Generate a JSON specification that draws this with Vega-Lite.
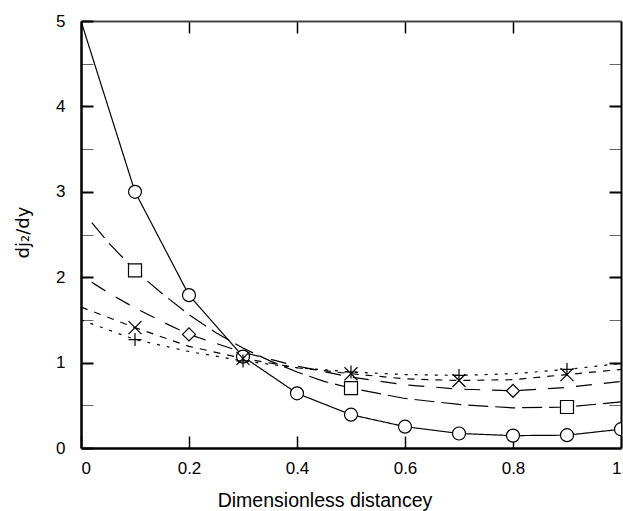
{
  "$schema": "https://vega.github.io/schema/vega-lite/v6.json",
  "width": 540,
  "height": 427,
  "autosize": "none",
  "padding": {"left": 81, "top": 21, "right": 2, "bottom": 63},
  "background": "white",
  "config": {
    "view": {"stroke": null},
    "axis": {"grid": false, "labelFont": "Liberation Sans", "titleFont": "Liberation Sans", "labelColor": "black", "titleColor": "black", "titleFontWeight": "normal", "labelFontSize": 17, "titleFontSize": 19.5}
  },
  "datasets": {
    "lines": [
      {"s": "A", "x": 0, "y": 5.0}, {"s": "A", "x": 0.1, "y": 3.0}, {"s": "A", "x": 0.2, "y": 1.79}, {"s": "A", "x": 0.3, "y": 1.07}, {"s": "A", "x": 0.4, "y": 0.64}, {"s": "A", "x": 0.5, "y": 0.39}, {"s": "A", "x": 0.6, "y": 0.25}, {"s": "A", "x": 0.7, "y": 0.17}, {"s": "A", "x": 0.8, "y": 0.145}, {"s": "A", "x": 0.9, "y": 0.15}, {"s": "A", "x": 1.0, "y": 0.22},
      {"s": "B", "x": 0.02, "y": 2.64}, {"s": "B", "x": 0.05, "y": 2.41}, {"s": "B", "x": 0.1, "y": 2.08}, {"s": "B", "x": 0.15, "y": 1.81}, {"s": "B", "x": 0.2, "y": 1.56}, {"s": "B", "x": 0.25, "y": 1.35}, {"s": "B", "x": 0.3, "y": 1.17}, {"s": "B", "x": 0.35, "y": 1.02}, {"s": "B", "x": 0.4, "y": 0.89}, {"s": "B", "x": 0.45, "y": 0.78}, {"s": "B", "x": 0.5, "y": 0.70}, {"s": "B", "x": 0.6, "y": 0.58}, {"s": "B", "x": 0.7, "y": 0.51}, {"s": "B", "x": 0.8, "y": 0.47}, {"s": "B", "x": 0.9, "y": 0.48}, {"s": "B", "x": 1.0, "y": 0.54},
      {"s": "C", "x": 0.02, "y": 1.94}, {"s": "C", "x": 0.05, "y": 1.82}, {"s": "C", "x": 0.1, "y": 1.64}, {"s": "C", "x": 0.15, "y": 1.48}, {"s": "C", "x": 0.2, "y": 1.33}, {"s": "C", "x": 0.3, "y": 1.12}, {"s": "C", "x": 0.4, "y": 0.96}, {"s": "C", "x": 0.5, "y": 0.83}, {"s": "C", "x": 0.6, "y": 0.74}, {"s": "C", "x": 0.7, "y": 0.69}, {"s": "C", "x": 0.8, "y": 0.67}, {"s": "C", "x": 0.9, "y": 0.71}, {"s": "C", "x": 1.0, "y": 0.78},
      {"s": "D", "x": 0, "y": 1.65}, {"s": "D", "x": 0.1, "y": 1.41}, {"s": "D", "x": 0.2, "y": 1.19}, {"s": "D", "x": 0.3, "y": 1.05}, {"s": "D", "x": 0.4, "y": 0.94}, {"s": "D", "x": 0.5, "y": 0.87}, {"s": "D", "x": 0.6, "y": 0.81}, {"s": "D", "x": 0.7, "y": 0.79}, {"s": "D", "x": 0.8, "y": 0.80}, {"s": "D", "x": 0.9, "y": 0.86}, {"s": "D", "x": 1.0, "y": 0.92},
      {"s": "E", "x": 0, "y": 1.50}, {"s": "E", "x": 0.1, "y": 1.27}, {"s": "E", "x": 0.2, "y": 1.13}, {"s": "E", "x": 0.3, "y": 1.02}, {"s": "E", "x": 0.4, "y": 0.94}, {"s": "E", "x": 0.5, "y": 0.89}, {"s": "E", "x": 0.6, "y": 0.86}, {"s": "E", "x": 0.7, "y": 0.85}, {"s": "E", "x": 0.8, "y": 0.87}, {"s": "E", "x": 0.9, "y": 0.92}, {"s": "E", "x": 1.0, "y": 0.99}
    ],
    "pts": [
      {"s": "A", "x": 0.1, "y": 3.0}, {"s": "A", "x": 0.2, "y": 1.79}, {"s": "A", "x": 0.3, "y": 1.07}, {"s": "A", "x": 0.4, "y": 0.64}, {"s": "A", "x": 0.5, "y": 0.39}, {"s": "A", "x": 0.6, "y": 0.25}, {"s": "A", "x": 0.7, "y": 0.17}, {"s": "A", "x": 0.8, "y": 0.145}, {"s": "A", "x": 0.9, "y": 0.15}, {"s": "A", "x": 1.0, "y": 0.22},
      {"s": "B", "x": 0.1, "y": 2.08}, {"s": "B", "x": 0.5, "y": 0.70}, {"s": "B", "x": 0.9, "y": 0.48},
      {"s": "C", "x": 0.2, "y": 1.33}, {"s": "C", "x": 0.8, "y": 0.67},
      {"s": "D", "x": 0.1, "y": 1.41}, {"s": "D", "x": 0.3, "y": 1.05}, {"s": "D", "x": 0.5, "y": 0.87}, {"s": "D", "x": 0.7, "y": 0.79}, {"s": "D", "x": 0.9, "y": 0.86},
      {"s": "E", "x": 0.1, "y": 1.27}, {"s": "E", "x": 0.3, "y": 1.02}, {"s": "E", "x": 0.5, "y": 0.89}, {"s": "E", "x": 0.7, "y": 0.85}, {"s": "E", "x": 0.9, "y": 0.92}
    ]
  },
  "layer": [
    {
      "data": {"name": "lines"},
      "mark": {"type": "line", "stroke": "black", "strokeWidth": 1.2, "clip": true},
      "encoding": {
        "x": {"field": "x", "type": "quantitative", "scale": {"domain": [0, 1], "nice": false, "zero": false},
          "axis": {"orient": "bottom", "values": [0, 0.2, 0.4, 0.6, 0.8, 1], "format": "~g", "tickSize": -12, "tickWidth": 1.5, "tickColor": "black", "labelPadding": 24, "domainColor": "black", "domainWidth": 2.5,
            "title": "Dimensionless distancey", "titleX": 243.5, "titleY": 58, "titleAlign": "center", "titleBaseline": "alphabetic"}},
        "y": {"field": "y", "type": "quantitative", "scale": {"domain": [0, 5], "nice": false, "zero": false},
          "axis": {"orient": "left", "values": [0, 0.5, 1, 1.5, 2, 2.5, 3, 3.5, 4, 4.5, 5], "labelExpr": "datum.value % 1 === 0 ? format(datum.value, 'd') : ''",
            "tickSize": -12, "tickWidth": {"condition": {"test": "datum.value % 1 === 0", "value": 2}, "value": 1}, "tickColor": {"condition": {"test": "datum.value % 1 === 0", "value": "black"}, "value": "#666"},
            "labelPadding": 28, "domainColor": "black", "domainWidth": 2.5,
            "title": "dj₂/dy", "titleFont": "DejaVu Sans", "titleFontSize": 18, "titleX": -53, "titleY": 211, "titleAngle": -90, "titleAlign": "center", "titleBaseline": "alphabetic"}},
        "strokeDash": {"field": "s", "type": "nominal", "scale": {"domain": ["A", "B", "C", "D", "E"], "range": [[1, 0], [20, 7], [16, 12], [7, 7], [3, 7]]}, "legend": null}
      }
    },
    {
      "data": {"name": "pts"},
      "mark": {"type": "point", "filled": false, "fill": "white", "stroke": "black", "strokeWidth": 1.2, "opacity": 1, "clip": true},
      "encoding": {
        "x": {"field": "x", "type": "quantitative",
          "axis": {"orient": "top", "values": [0.2, 0.4, 0.6, 0.8], "labels": false, "tickSize": -12, "tickWidth": 1.5, "tickColor": "black", "domainColor": "#444", "domainWidth": 2, "title": null}},
        "y": {"field": "y", "type": "quantitative",
          "axis": {"orient": "right", "values": [0.5, 1, 1.5, 2, 2.5, 3, 3.5, 4, 4.5], "labels": false, "tickSize": -12, "tickWidth": {"condition": {"test": "datum.value % 1 === 0", "value": 2}, "value": 1}, "tickColor": {"condition": {"test": "datum.value % 1 === 0", "value": "black"}, "value": "#666"}, "domainColor": "black", "domainWidth": 2, "title": null}},
        "shape": {"field": "s", "type": "nominal", "scale": {"domain": ["A", "B", "C", "D", "E"], "range": ["circle", "square", "diamond", "M-1,-1L1,1M-1,1L1,-1", "M-1,0L1,0M0,-1L0,1"]}, "legend": null},
        "size": {"field": "s", "type": "nominal", "scale": {"domain": ["A", "B", "C", "D", "E"], "range": [169, 169, 144, 144, 196]}, "legend": null}
      }
    }
  ],
  "resolve": {"axis": {"x": "independent", "y": "independent"}}
}
